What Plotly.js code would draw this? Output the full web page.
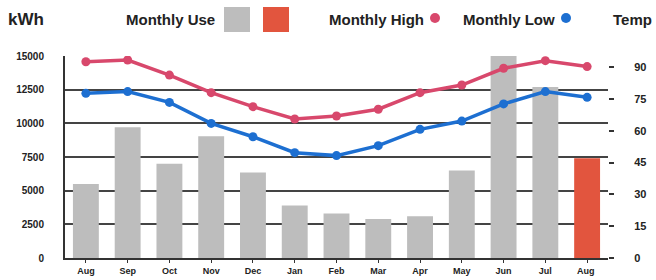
<!DOCTYPE html>
<html>
<head>
<meta charset="utf-8">
<script src="https://cdn.plot.ly/plotly-3.0.1.min.js"></script>
<style>html,body{margin:0;padding:0;background:#fff;}#chart{width:656px;height:280px;}</style>
</head>
<body>
<div id="chart"></div>
<script>
var months = ["Aug","Sep","Oct","Nov","Dec","Jan","Feb","Mar","Apr","May","Jun","Jul","Aug "];
var monthlyUse = [5500,9700,7000,9050,6350,3900,3300,2900,3100,6500,15000,12700,7400];
var monthlyHigh = [92.6,93.4,86.3,78.0,71.4,65.6,67.0,70.2,78.0,81.6,89.5,93.1,90.3];
var monthlyLow = [77.7,78.5,73.4,63.5,57.2,49.7,48.3,53.0,60.7,64.6,72.7,78.5,75.8];
var kwhTicks = [0,2500,5000,7500,10000,12500,15000];
var tempTicks = [0,15,30,45,60,75,90];

var FONT = "Liberation Sans, Arial, sans-serif";
var HIGH = "#d8486c", LOW = "#1d6fd1", GRAY = "#bdbdbd", RED = "#e2553e";
var barColors = monthlyUse.map(function(v,i){ return i === monthlyUse.length-1 ? RED : GRAY; });

var traces = [
  {type:"bar", x:months, y:monthlyUse, marker:{color:barColors}, width:0.62, yaxis:"y", hoverinfo:"skip"},
  {type:"scatter", mode:"lines+markers", x:months, y:monthlyHigh, yaxis:"y2",
   line:{color:HIGH, width:3.5}, marker:{color:HIGH, size:9}},
  {type:"scatter", mode:"lines+markers", x:months, y:monthlyLow, yaxis:"y2",
   line:{color:LOW, width:3.5}, marker:{color:LOW, size:9}}
];

function px2y(p){ return (258 - p) / 202; }
function px2x(p){ return (p - 65) / 543; }
var legFont = {family:FONT, size:15, color:"#222", weight:"bold"};

var layout = {
  width:656, height:280,
  margin:{l:65, r:48, t:56, b:22},
  paper_bgcolor:"#ffffff", plot_bgcolor:"#ffffff",
  showlegend:false,
  font:{family:FONT, size:9, color:"#222"},
  xaxis:{type:"category", range:[-0.5,12.5], showgrid:false, showline:true, linecolor:"#333", linewidth:2,
         ticks:"outside", ticklen:3, tickcolor:"#333", tickfont:{family:FONT, size:9, color:"#222", weight:"bold"}},
  yaxis:{range:[0,15000], tickvals:kwhTicks, ticktext:kwhTicks.map(String), showgrid:true, gridcolor:"#444", gridwidth:2,
         showline:true, linecolor:"#333", linewidth:2, zeroline:false, ticks:"", ticklabelstandoff:17,
         tickfont:{family:FONT, size:10, color:"#222", weight:"bold"}},
  yaxis2:{overlaying:"y", side:"right", range:[0,95.3], tickvals:tempTicks, showgrid:false, zeroline:false,
          ticks:"outside", ticklen:5, tickcolor:"#333", tickwidth:2, ticklabelstandoff:18,
          tickfont:{family:FONT, size:11, color:"#222", weight:"bold"}},
  annotations:[
    {xref:"paper", yref:"paper", x:px2x(6), y:px2y(19), xanchor:"left", yanchor:"middle", text:"kWh", showarrow:false, font:{family:FONT, size:17, color:"#222", weight:"bold"}},
    {xref:"paper", yref:"paper", x:px2x(124), y:px2y(19), xanchor:"left", yanchor:"middle", text:"Monthly Use", showarrow:false, font:legFont},
    {xref:"paper", yref:"paper", x:px2x(327), y:px2y(19), xanchor:"left", yanchor:"middle", text:"Monthly High", showarrow:false, font:legFont},
    {xref:"paper", yref:"paper", x:px2x(461), y:px2y(19), xanchor:"left", yanchor:"middle", text:"Monthly Low", showarrow:false, font:legFont},
    {xref:"paper", yref:"paper", x:px2x(654), y:px2y(19), xanchor:"right", yanchor:"middle", text:"Temp", showarrow:false, font:{family:FONT, size:15, color:"#222", weight:"bold"}}
  ],
  shapes:[
    {type:"rect", xref:"paper", yref:"paper", x0:px2x(224), x1:px2x(250), y0:px2y(32), y1:px2y(7), fillcolor:GRAY, line:{width:0}},
    {type:"rect", xref:"paper", yref:"paper", x0:px2x(263), x1:px2x(289), y0:px2y(32), y1:px2y(7), fillcolor:RED, line:{width:0}},
    {type:"circle", xref:"paper", yref:"paper", x0:px2x(430), x1:px2x(440), y0:px2y(23), y1:px2y(13), fillcolor:HIGH, line:{width:0}},
    {type:"circle", xref:"paper", yref:"paper", x0:px2x(561), x1:px2x(571), y0:px2y(23), y1:px2y(13), fillcolor:LOW, line:{width:0}}
  ]
};
Plotly.newPlot("chart", traces, layout, {staticPlot:true, displayModeBar:false});
</script>
</body>
</html>
